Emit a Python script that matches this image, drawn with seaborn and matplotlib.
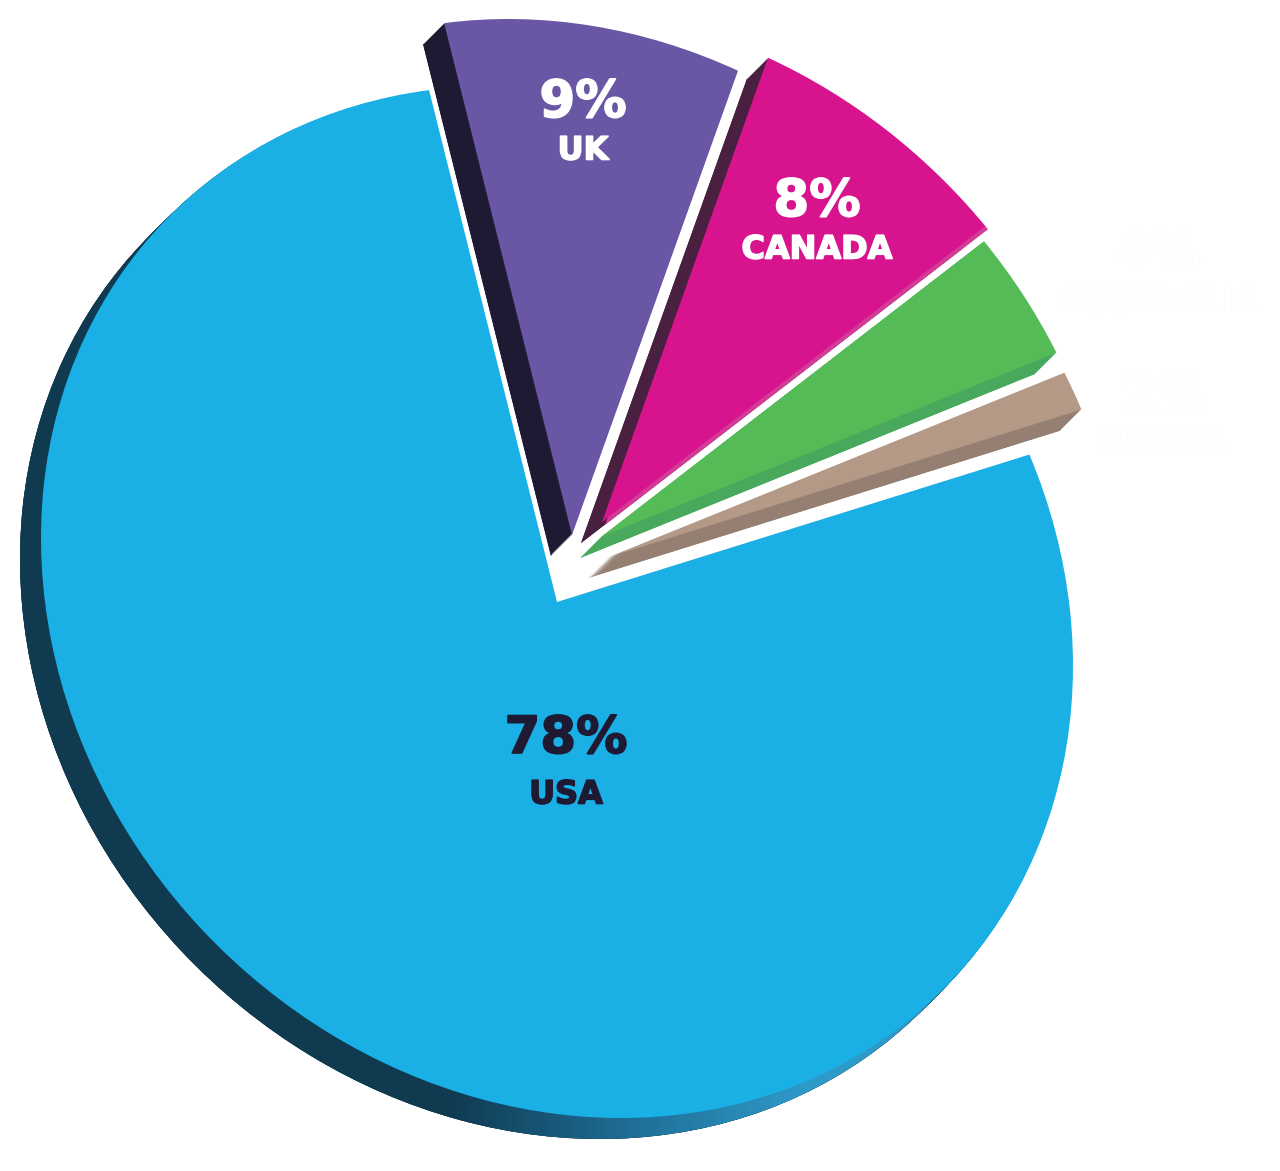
import numpy as np
import matplotlib.pyplot as plt
import matplotlib.patheffects as pe
from matplotlib.colors import LinearSegmentedColormap
from matplotlib.transforms import Affine2D
import seaborn as sns

# slices in drawing order, counter clockwise starting at the USA
countries = ['USA', 'BRAZIL', 'AUSTRALIA', 'CANADA', 'UK']
# slice sizes as drawn in the picture, they differ a little from the printed labels
shares = [77.6, 1.2, 3.9, 8.1, 9.2]
share_labels = ['78%', '2%', '4%', '8%', '9%']

face_colors = sns.color_palette(['#1ab0e6', '#b39986', '#55bb57', '#d7148e', '#6956a5'])
side_colors = sns.color_palette(['#0f3a50', '#957f72', '#48a85c', '#4a2040', '#1e1a33'])
label_colors = ['#1e1a33', 'white', 'white', 'white', 'white']

W, H = 1280, 1171
START_ANGLE = 100.8
# tilted circle, turns the pie into the slanted ellipse
TILT = [[515, -32, 0], [-32, 515, 0], [0, 0, 1]]
# where each slice tip sits in the picture (pixels, y down)
tips = [(557, 602), (609, 557), (601, 537), (602, 522), (572, 535)]
DEPTH = 21

# centre x, pct y, name y, pct size, name size
label_pos = [
    (566, 739, 795, 37, 23),
    (1165, 398, 444, 37, 23),
    (1158, 255, 303, 37, 23),
    (817, 202, 250, 37, 23),
    (583, 103, 151, 37, 23),
]

sns.set_theme(style='white')
plt.rcParams['font.family'] = ['DejaVu Sans']

fig = plt.figure(figsize=(W / 100, H / 100), dpi=100)
ax = fig.add_axes([0, 0, 1, 1])


def slice_transform(tip, shift=0):
    return (Affine2D(np.array(TILT, dtype=float))
            .translate(tip[0] - shift, H - tip[1] - shift) + ax.transData)


def draw_layer(colors, shift=0, zorder=1):
    wedges, _ = ax.pie(shares, startangle=START_ANGLE, radius=1, labels=None,
                       wedgeprops={'linewidth': 0})
    for w, tip, col in zip(wedges, tips, colors):
        w.set_transform(slice_transform(tip, shift))
        w.set_facecolor(col)
        w.set_edgecolor(col)
        w.set_zorder(zorder)
    return wedges


# extruded sides, the deepest first
for step in range(DEPTH, 0, -1):
    draw_layer(side_colors, shift=step, zorder=1)

# the USA shadow fades to blue along the bottom
shadow = draw_layer(side_colors, shift=DEPTH, zorder=1)[0]
fade = LinearSegmentedColormap.from_list('fade', ['#0f3a50', '#1f6d94', '#2e9aca'])
grad = np.clip((np.linspace(0, 1, 400) - 0.35) / 0.28, 0, 1).reshape(1, -1)
im = ax.imshow(grad, cmap=fade, extent=(0, W, 0, H), aspect='auto', zorder=1.5)
im.set_clip_path(shadow)

# canada's lower edge is a lighter pink, only its left side is dark
band = draw_layer(face_colors, zorder=1.6)
for i, w in enumerate(band):
    if countries[i] == 'CANADA':
        w.set_transform(slice_transform((tips[i][0] + 3, tips[i][1] + 3)))
        w.set_facecolor('#d23c97')
        w.set_edgecolor('#d23c97')
    else:
        w.remove()

draw_layer(face_colors, zorder=2)

for name, pct, col, (x, y_pct, y_name, s_pct, s_name) in zip(countries, share_labels, label_colors, label_pos):
    for txt, y, size in [(pct, y_pct, s_pct), (name, y_name, s_name)]:
        t = ax.text(x, H - y, txt, color=col, fontsize=size, fontweight='bold',
                    ha='center', va='center', zorder=3)
        if name in ('AUSTRALIA', 'BRAZIL'):
            t.set_path_effects([pe.withStroke(linewidth=0.6, foreground='#fafafa')])
        else:
            # the original type is heavier than DejaVu Bold
            t.set_path_effects([pe.withStroke(linewidth=1.2, foreground=col)])

ax.set_aspect('auto')
ax.set_xlim(0, W)
ax.set_ylim(0, H)
ax.axis('off')

fig.savefig('out.png', dpi=100, facecolor='white')
